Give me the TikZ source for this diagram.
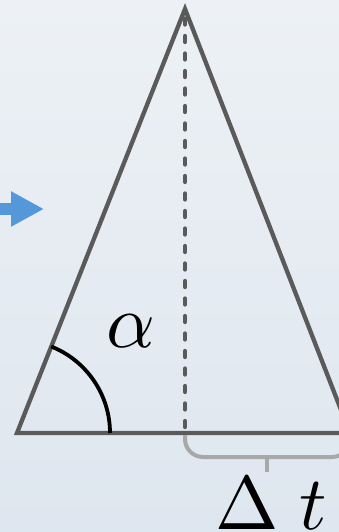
\documentclass[tikz,border=0pt]{standalone}
\usetikzlibrary{arrows.meta}

\definecolor{fondoArriba}{RGB}{237,241,245}
\definecolor{fondoAbajo}{RGB}{222,230,239}
\definecolor{lineaGris}{RGB}{90,90,90}
\definecolor{llaveGris}{RGB}{168,168,168}
\definecolor{flechaAzul}{RGB}{84,152,218}

\tikzset{
  lado/.style={draw=lineaGris, line width=4.3pt, line join=miter},
  altura/.style={draw=lineaGris, line width=4.3pt, line cap=round, dash pattern=on 6pt off 11.5pt, dash phase=11.5pt},
  angulo/.style={draw=black, line width=3.8pt},
  llave/.style={draw=llaveGris, line width=4pt, rounded corners=18pt},
  etiqueta/.style={font=\normalsize, scale=7.6, inner sep=0pt},
}

\begin{document}
\begin{tikzpicture}[x=1pt, y=-1pt]
% Fondo degradado y marco de la figura
\shade[top color=fondoArriba, bottom color=fondoAbajo] (0,0) rectangle (339,532);
\useasboundingbox (0,0) rectangle (339,532);

% Vertices del triangulo (el derecho queda fuera del marco)
\coordinate (apice) at (185,9);
\coordinate (izq) at (17,433);
\coordinate (der) at (350,433);
\coordinate (pie) at (185,433);

% Flecha azul de entrada
\coordinate (flechaIni) at (-6,209);
\coordinate (flechaFin) at (44,209);
\draw[flechaAzul, line width=12pt, -{Triangle[length=33pt,width=33pt]}] (flechaIni) -- (flechaFin);

% Triangulo y altura punteada
\draw[lado] (izq) -- (apice) -- (der) -- cycle;
\draw[altura] (pie) -- (apice);

% Arco del angulo alfa
\coordinate (arcoIni) at (110,433);
\draw[angulo] (arcoIni) arc[start angle=0, end angle=-68.4, radius=93];
\node[etiqueta, anchor=base] (alfa) at (131,347) {$\alpha$};

% Llave bajo la mitad derecha de la base
\coordinate (llaveIni) at (185,435);
\coordinate (llaveFin) at (350,435);
\coordinate (llaveMedio) at (267,457);
\coordinate (llavePunta) at (267,472);
\draw[llave] (llaveIni) -- (llaveIni |- llaveMedio) -- (llaveFin |- llaveMedio) -- (llaveFin);
\draw[llave] (llaveMedio) -- (llavePunta);
\node[etiqueta, anchor=base west] (delta) at (214,529) {$\Delta\;t$};
\end{tikzpicture}
\end{document}
